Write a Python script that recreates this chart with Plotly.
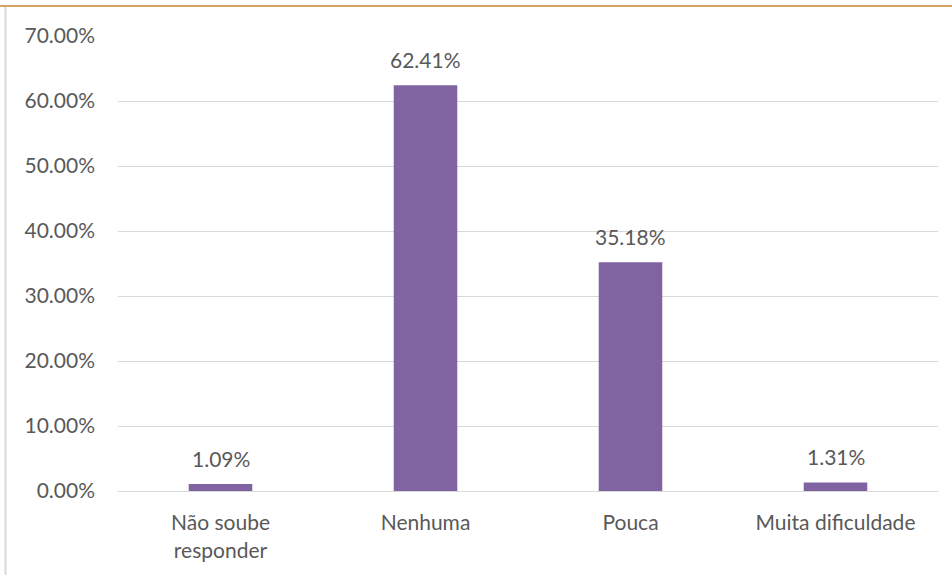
import plotly.graph_objects as go

categories = ["Não soube<br>responder", "Nenhuma", "Pouca", "Muita dificuldade"]
values = [1.09, 62.41, 35.18, 1.31]
value_labels = ["1.09%", "62.41%", "35.18%", "1.31%"]
y_ticks = [0, 10, 20, 30, 40, 50, 60, 70]
y_tick_labels = ["0.00%", "10.00%", "20.00%", "30.00%", "40.00%", "50.00%", "60.00%", "70.00%"]

FONT = "Lato"
FS = 21
TXT = "#595959"

W, H = 952, 575
ML, MR, MT, MB = 118, 14, 36, 84
PW, PH = W - ML - MR, H - MT - MB

fig = go.Figure()
fig.add_trace(go.Bar(
    x=categories, y=values, marker_color="#8064A2", width=0.31,
    marker_line_width=0, hoverinfo="skip",
))
for c, v, t in zip(categories, values, value_labels):
    fig.add_annotation(x=c, y=v, text=t, showarrow=False, yanchor="bottom",
                       yshift=11, font=dict(family=FONT, size=FS, color=TXT))

fig.update_layout(
    width=W, height=H,
    margin=dict(l=ML, r=MR, t=MT, b=MB),
    paper_bgcolor="white", plot_bgcolor="white",
    showlegend=False,
    font=dict(family=FONT, size=FS, color=TXT),
)
fig.update_yaxes(range=[0, 70], tickvals=y_ticks, ticktext=y_tick_labels,
                 showgrid=True, gridcolor="#d9d9d9", gridwidth=1, zeroline=False,
                 showline=False, ticks="", ticklabelstandoff=22,
                 tickfont=dict(family=FONT, size=FS, color=TXT))
fig.update_xaxes(showgrid=False, showline=True, linecolor="#d9d9d9", linewidth=1,
                 ticks="", ticklabelstandoff=13,
                 tickfont=dict(family=FONT, size=FS, color=TXT))
# chart frame borders
fig.add_shape(type="line", xref="paper", yref="paper", x0=-ML / PW, x1=1 + MR / PW,
              y0=1 + 30 / PH, y1=1 + 30 / PH, line=dict(color="#d4a262", width=2))
fig.add_shape(type="line", xref="paper", yref="paper", x0=-112.5 / PW, x1=-112.5 / PW,
              y0=1 + 29 / PH, y1=-MB / PH, line=dict(color="#d9d9d9", width=2))

fig.write_html("out.html", config={"displayModeBar": False},
               post_script="document.body.style.margin='0';")
